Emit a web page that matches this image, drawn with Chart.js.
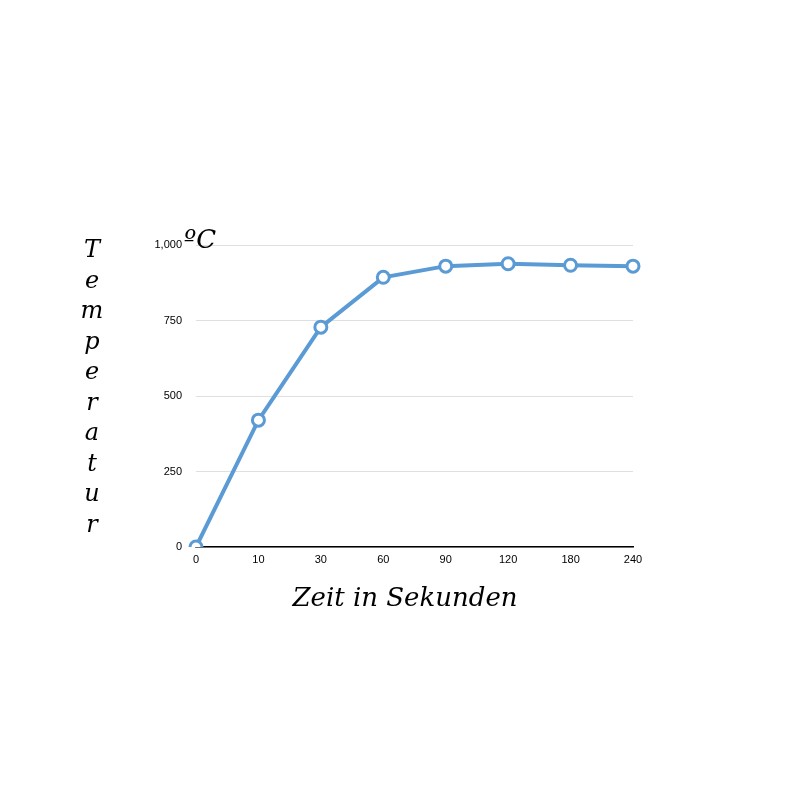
<!DOCTYPE html>
<html><head><meta charset="utf-8">
<script src="https://cdn.jsdelivr.net/npm/chart.js"></script>
<style>
body{margin:0;background:#fff;}
#wrap{position:relative;width:800px;height:800px;}
canvas{position:absolute;left:0;top:0;}
.lbl{position:absolute;font-family:"DejaVu Serif",serif;font-style:italic;color:#000;}
#ylab{left:80px;top:234px;width:24px;text-align:center;font-size:24px;line-height:30.5px;}
#unit{left:184px;top:224px;font-size:26px;}
#xlab{left:0;width:810px;top:582px;text-align:center;font-size:26px;}
</style></head><body>
<div id="wrap">
<canvas id="c" width="800" height="800"></canvas>
<div class="lbl" id="ylab">T<br>e<br>m<br>p<br>e<br>r<br>a<br>t<br>u<br>r</div>
<div class="lbl" id="unit">ºC</div>
<div class="lbl" id="xlab">Zeit in Sekunden</div>
</div>
<script>
const categories=["0","10","30","60","90","120","180","240"];
const temperatures=[0,420,728,893,930,938,933,930];
const yTicks=[0,250,500,750,1000];
new Chart(document.getElementById('c'),{
type:'line',
data:{labels:categories,datasets:[{data:temperatures,borderColor:'#5b9bd5',borderWidth:4,
pointRadius:6,pointHoverRadius:6,pointBackgroundColor:'#fff',pointBorderColor:'#5b9bd5',pointBorderWidth:3,tension:0}]},
options:{responsive:false,animation:false,
layout:{padding:{left:140,right:167,top:245,bottom:233}},
plugins:{legend:{display:false},tooltip:{enabled:false}},
scales:{
x:{offset:false,grid:{display:false,drawTicks:false},border:{color:'#000',width:1.5},
ticks:{color:'#000',font:{family:'Liberation Sans',size:11},padding:6,maxRotation:0},
afterFit(s){s.height=20;}},
y:{min:0,max:1000,afterBuildTicks(s){s.ticks=yTicks.map(v=>({value:v}));},
grid:{color:'#e0e0e0',drawTicks:false},border:{display:false},
ticks:{color:'#000',font:{family:'Liberation Sans',size:11},padding:14},
afterFit(s){s.width=56;}}
}}});
</script>
</body></html>
